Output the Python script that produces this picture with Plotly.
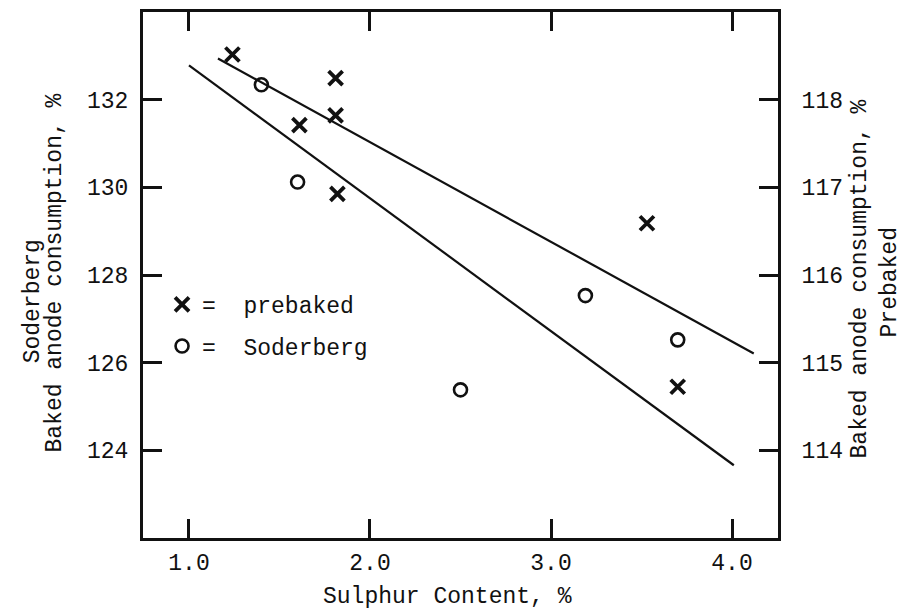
import plotly.graph_objects as go

# ---- data ----
prebaked_x = [1.24, 1.81, 1.81, 1.61, 1.82, 3.53, 3.70]
prebaked_y = [133.03, 132.49, 131.64, 131.42, 129.85, 129.18, 125.45]

soderberg_x = [1.40, 1.60, 2.50, 3.19, 3.70]
soderberg_y = [132.34, 130.12, 125.38, 127.53, 126.52]

upper_line_x = [1.16, 4.12]
upper_line_y = [132.94, 126.21]
lower_line_x = [1.00, 4.01]
lower_line_y = [132.78, 123.66]

x_ticks = [1.0, 2.0, 3.0, 4.0]
x_tick_labels = ["1.0", "2.0", "3.0", "4.0"]
left_ticks = [124, 126, 128, 130, 132]
right_ticks = [114, 115, 116, 117, 118]

FONT = "Liberation Mono, Courier New, monospace"
BLACK = "#111111"

fig = go.Figure()

fig.add_trace(go.Scatter(x=upper_line_x, y=upper_line_y, mode="lines",
                         line=dict(color=BLACK, width=2.2), showlegend=False, hoverinfo="skip"))
fig.add_trace(go.Scatter(x=lower_line_x, y=lower_line_y, mode="lines",
                         line=dict(color=BLACK, width=2.2), showlegend=False, hoverinfo="skip"))

fig.add_trace(go.Scatter(x=prebaked_x, y=prebaked_y, mode="markers", name="=  prebaked",
                         marker=dict(symbol="x-thin", size=14, line=dict(color=BLACK, width=3.8)),
                         legend="legend"))
fig.add_trace(go.Scatter(x=soderberg_x, y=soderberg_y, mode="markers", name="=  Soderberg",
                         marker=dict(symbol="circle-open", size=13, color=BLACK,
                                     line=dict(color=BLACK, width=2.6)),
                         legend="legend2"))

# invisible trace to activate the right axis
fig.add_trace(go.Scatter(x=[None], y=[None], yaxis="y2", showlegend=False, hoverinfo="skip"))

axis_common = dict(showgrid=False, zeroline=False, showline=True, linecolor=BLACK, linewidth=3,
                   ticks="inside", ticklen=19, tickwidth=2.5, tickcolor=BLACK,
                   tickfont=dict(family=FONT, size=23, color=BLACK))

fig.update_layout(
    width=915, height=613,
    margin=dict(l=143, r=137, t=9, b=75),
    paper_bgcolor="white", plot_bgcolor="white",
    font=dict(family=FONT, color=BLACK),
    xaxis=dict(range=[0.746, 4.254], tickvals=x_ticks, ticktext=x_tick_labels,
               mirror="ticks", ticklabelstandoff=1, **axis_common),
    yaxis=dict(range=[122, 134], tickvals=left_ticks, mirror=False,
               ticklabelstandoff=7, **axis_common),
    yaxis2=dict(range=[113, 119], tickvals=right_ticks, overlaying="y", side="right",
                ticklabelstandoff=16, **axis_common),
    legend=dict(x=0.03, y=(538 - 303) / 529, xanchor="left", yanchor="middle",
                bgcolor="rgba(0,0,0,0)", font=dict(family=FONT, size=23, color=BLACK)),
    legend2=dict(x=0.03, y=(538 - 345) / 529, xanchor="left", yanchor="middle",
                 bgcolor="rgba(0,0,0,0)", font=dict(family=FONT, size=23, color=BLACK)),
)

def px_x(p):
    return (p - 143) / 635

def px_y(p):
    return (538 - p) / 529

ann_font = dict(family=FONT, size=23, color=BLACK)
annotations = [
    dict(text="Sulphur Content, %", x=px_x(447), y=px_y(597)),
    dict(text="Soderberg", x=px_x(33), y=px_y(300), textangle=-90),
    dict(text="Baked anode consumption, %", x=px_x(55), y=px_y(272), textangle=-90),
    dict(text="Baked anode consumption, %", x=px_x(860), y=px_y(278), textangle=-90),
    dict(text="Prebaked", x=px_x(890), y=px_y(281), textangle=-90),
]
for a in annotations:
    fig.add_annotation(xref="paper", yref="paper", showarrow=False,
                       xanchor="center", yanchor="middle", font=ann_font, **a)

fig.write_html("out.html")
